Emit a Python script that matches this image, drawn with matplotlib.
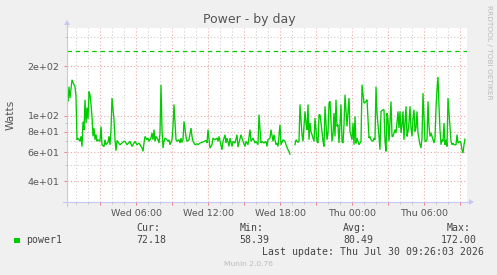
import numpy as np
import matplotlib
matplotlib.use("Agg")
import matplotlib.pyplot as plt
from matplotlib.ticker import FixedLocator, FixedFormatter, NullFormatter
from matplotlib.lines import Line2D
from matplotlib.patches import Polygon

# ---------------- data ----------------
START_H = 0.225          # window start, hours after Wed 00:00
STEP_MIN = 5             # one sample = 5 minutes
N_SAMPLES = 400

sample_idx = [
    0, 1, 2, 3, 5, 7, 8, 9, 10, 11, 13, 14, 15, 16, 17, 18, 19, 20, 21, 22, 23, 24, 25, 26, 27, 28, 29, 30,
    31, 33, 34, 35, 37, 38, 39, 41, 42, 43, 44, 45, 47, 48, 49, 50, 52, 53, 55, 57,
    58, 60, 62, 63, 65, 67, 68, 70, 72, 73, 75, 76, 77, 78, 80, 81, 82, 84, 85, 86, 87, 88, 89, 91, 92, 93,
    94, 95, 96, 97, 98, 100, 101, 102, 103, 105, 106, 107, 109, 110, 112, 113, 114,
    115, 116, 117, 119, 120, 122, 124, 125, 126, 128, 130, 131, 133, 135, 137, 139, 140, 141, 143, 145, 146,
    148, 150, 151, 152, 155, 156, 158, 159, 160, 162, 163, 165, 166, 168, 170, 171, 172,
    174, 176, 178, 179, 181, 183, 184, 186, 188, 189, 191, 192, 194, 195, 197, 199, 200, 201, 203, 204, 206,
    207, 209, 210, 211, 213, 214, 216, 218, 219, 221, 222, 223, 225,
    228, 229, 231, 232, 233, 235, 236, 238, 239, 240, 241, 242, 243, 244, 246, 247, 248, 250, 251, 252, 253,
    255, 256, 257, 258, 260, 261, 262, 263, 265, 266, 267, 268, 269, 270, 271, 272, 274, 275, 276, 277, 278,
    280, 281, 282, 283, 285, 286, 287, 288, 289,
    290, 291, 292, 294, 295, 297, 299, 300, 301, 302, 303, 304, 306, 307, 308, 309, 310, 312, 313, 314, 316,
    317, 318, 319, 320, 321, 322, 324, 325, 326, 328, 329, 331, 332, 333, 334, 335, 336, 337, 339, 340, 341,
    342, 343, 344, 345,
    346, 347, 348, 349, 350, 351, 353, 354, 355, 356, 357, 358, 359, 360, 361, 362, 363, 364, 366, 367, 368,
    369, 370, 371, 372, 373, 374, 375, 376, 377, 378, 379, 380, 381, 383, 384, 385, 386, 387, 389, 390, 391,
    393, 394, 395, 396, 397, 398,
]

watts = [
    125, 122, 150, 128, 165, 154, 150, 131, 71.5, 73, 70, 75, 65, 92, 82, 125, 90, 112, 95, 140, 134, 117, 99, 75, 84, 71.5, 77, 70,
    71.5, 70, 86, 66.7, 65, 71.5, 66.7, 69, 75, 66.7, 82, 128, 94.6, 71.5, 61.4, 70.8, 67.7, 66.7, 68.3, 70,
    69.9, 66.7, 68.9, 69.9, 65.1, 68.3, 69.9, 66.7, 68.3, 66.7, 63.7, 60.8, 68.3, 74.9, 71.5, 73.2, 69.9, 73.2, 78.5, 71.5, 82.3, 69.9, 74.9, 71.5, 68.3, 78.5,
    154, 82.3, 63.7, 69.9, 73.2, 71.5, 69.9, 71.5, 66.7, 71.5, 86.2, 117, 71.5, 69.9, 71.5, 68.3, 73.2,
    68.9, 71.5, 92.4, 74.9, 69.9, 71.5, 84.2, 74.9, 69.9, 66.7, 67.6, 66.7, 68.3, 68.9, 69.9, 70.8, 68.3, 82.3, 63.7, 66.7, 73.2,
    71.5, 73.2, 69.9, 74.9, 62.2, 69.9, 76.7, 68.3, 73.2, 65.1, 73.2, 65.1, 69.9, 68.3, 76.7, 64.5, 68.3,
    76.7, 69.9, 65.1, 69.9, 66.7, 82.3, 69.9, 73.2, 68.3, 69.9, 66.7, 101.4, 68.3, 69.9, 68.3, 69.9, 65.1, 71.5, 73.2, 82.3, 69.9,
    76.7, 66.7, 68.3, 65.1, 88.2, 66.7, 71.5, 69.9, 66.7, 62.2, 60.8, 58.39, np.nan,
    66.7, 71.5, 68.9, 69.9, 117, 76.7, 69.9, 106.2, 90.3, 82.3, 117, 71.5, 90.3, 80.3, 73.2, 69.9, 96.8, 69.9, 68.3, 101.4, 101.4,
    80.3, 69.9, 65.1, 114, 71.5, 78.5, 119, 122, 69.9, 76.7, 103.8, 74.9, 125, 86.2, 88.2, 68.3, 117, 69.9, 68.3, 88.2, 134,
    86.2, 106.2, 128, 80.3, 71.5, 90.3, 66.7, 99, 68,
    73.2, 69.9, 66.7, 69.9, 154, 119, 122, 125, 96.8, 73.2, 74.9, 71.5, 69.9, 73.2, 71.5, 150, 103.8, 74.9, 62.2, 106.2, 108.7,
    108.7, 69.9, 60.8, 103.8, 94.6, 69.9, 122, 74.9, 74.9, 82.3, 78.5, 106.2, 84.2, 106.2, 78.5, 88.2, 106.2, 71.5, 114, 74.9, 80.3,
    90.3, 114, 84.2, 74.9,
    96.8, 108.7, 80.3, 84.2, 106.2, 78.5, 66.7, 63.7, 73.2, 137, 99, 69.9, 69.9, 71.5, 122, 86.2, 74.9, 78.5, 71.5, 68.3, 73.2,
    111.4, 144, 172, 114, 82.3, 66.7, 71.5, 69.9, 90.3, 66.7, 71.5, 65.1, 128, 86.2, 69.9, 66.7, 68.3, 66.7, 66.7, 76.7, 68.3,
    69.9, 68.3, 62.2, 59.4, 66.7, 72.18,
]

threshold = 248

y_major = [40, 60, 80, 100, 200]
y_major_labels = ["4e+01", "6e+01", "8e+01", "1e+02", "2e+02"]
y_minor = [30, 50, 70, 90, 300]

x_major_h = list(range(3, 34, 3))
x_label_map = {6: "Wed 06:00", 12: "Wed 12:00", 18: "Wed 18:00", 24: "Thu 00:00", 30: "Thu 06:00"}
x_minor_h = list(range(1, 34))

legend_name = "power1"
stats_labels = ["Cur:", "Min:", "Avg:", "Max:"]
stats_values = ["72.18", "58.39", "80.49", "172.00"]
last_update = "Last update: Thu Jul 30 09:26:03 2026"

# ---------------- figure ----------------
W, H = 497, 275
fig = plt.figure(figsize=(W / 100, H / 100), dpi=100)
fig.patch.set_facecolor("#F0F0F0")

def fx(x):
    return x / W

def fy(y):
    return 1 - y / H

ax = fig.add_axes([fx(67), fy(202), 400 / W, 174 / H])
ax.set_facecolor("white")
for s in ax.spines.values():
    s.set_visible(False)

t = START_H + np.array(sample_idx) * STEP_MIN / 60.0
ax.plot(t, watts, color="#00CC00", lw=0.95, zorder=3, solid_joinstyle="miter")
ax.axhline(threshold, color="#00CC00", lw=0.9, dashes=(3.6, 3.0), zorder=3)

ax.set_yscale("log")
ax.set_ylim(30, 340)
ax.set_xlim(START_H, START_H + N_SAMPLES * STEP_MIN / 60.0)

ax.yaxis.set_major_locator(FixedLocator(y_major))
ax.yaxis.set_major_formatter(FixedFormatter(y_major_labels))
ax.yaxis.set_minor_locator(FixedLocator(y_minor))
ax.yaxis.set_minor_formatter(NullFormatter())

ax.xaxis.set_major_locator(FixedLocator(x_major_h))
ax.xaxis.set_major_formatter(FixedFormatter([x_label_map.get(h, "") for h in x_major_h]))
ax.xaxis.set_minor_locator(FixedLocator(x_minor_h))
ax.xaxis.set_minor_formatter(NullFormatter())

red_grid = "#EBA6A6"
grey_grid = "#CFCFCF"
ax.grid(which="major", color=red_grid, linestyle=(0, (1, 2)), lw=0.8)
ax.grid(which="minor", color=grey_grid, linestyle=(0, (1, 2)), lw=0.8)
ax.set_axisbelow(True)

ax.tick_params(axis="both", which="major", length=2, width=0.7, color="#F08080",
               labelsize=6.8, labelcolor="#555555")
ax.tick_params(axis="both", which="minor", length=1.5, width=0.6, color="#BBBBBB")
ax.tick_params(axis="x", which="major", pad=3)
ax.tick_params(axis="y", which="major", pad=3.4)

# axis lines with arrows
axis_col = "#C4C8F2"
fig.add_artist(Line2D([fx(67), fx(67)], [fy(206), fy(25)], color=axis_col, lw=0.8))
fig.add_artist(Line2D([fx(63), fx(469)], [fy(202), fy(202)], color=axis_col, lw=0.8))
fig.add_artist(Polygon([[fx(64), fy(25)], [fx(70), fy(25)], [fx(67), fy(20)]], closed=True,
                       color=axis_col, lw=0))
fig.add_artist(Polygon([[fx(469), fy(199)], [fx(469), fy(205)], [fx(474), fy(202)]], closed=True,
                       color=axis_col, lw=0))

# texts
fig.text(fx(249), fy(23.5), "Power - by day", ha="center", va="baseline", fontsize=9, color="#555555")
fig.text(fx(11), fy(115), "Watts", ha="center", va="center", rotation=90, fontsize=7.6, color="#555555")
fig.text(fx(488.5), fy(5), "RRDTOOL / TOBI OETIKER", ha="center", va="top", rotation=270,
         fontsize=5.3, color="#BBBBBB")

mono = "DejaVu Sans Mono"
fs_m = 7.1
fig.add_artist(Polygon([[fx(14), fy(237.5)], [fx(19.5), fy(237.5)], [fx(19.5), fy(243)], [fx(14), fy(243)]],
                       closed=True, color="#00CC00", lw=0))
fig.text(fx(26), fy(240.3), legend_name, ha="left", va="center", family=mono, fontsize=fs_m, color="#444444")
lab_x = [136, 239.3, 343.3, 446.5]
val_x = [136, 239.3, 343.3, 440.8]
for lx, vx, lab, val in zip(lab_x, val_x, stats_labels, stats_values):
    fig.text(fx(lx), fy(228.3), lab, ha="left", va="center", family=mono, fontsize=fs_m, color="#444444")
    fig.text(fx(vx), fy(240.3), val, ha="left", va="center", family=mono, fontsize=fs_m, color="#444444")
fig.text(fx(261.7), fy(251.8), last_update, ha="left", va="center", family=mono, fontsize=fs_m, color="#444444")
fig.text(fx(248), fy(264), "Munin 2.0.76", ha="center", va="center", fontsize=5.4, color="#BBBBBB")

fig.savefig("out.png", dpi=100, facecolor=fig.get_facecolor())
